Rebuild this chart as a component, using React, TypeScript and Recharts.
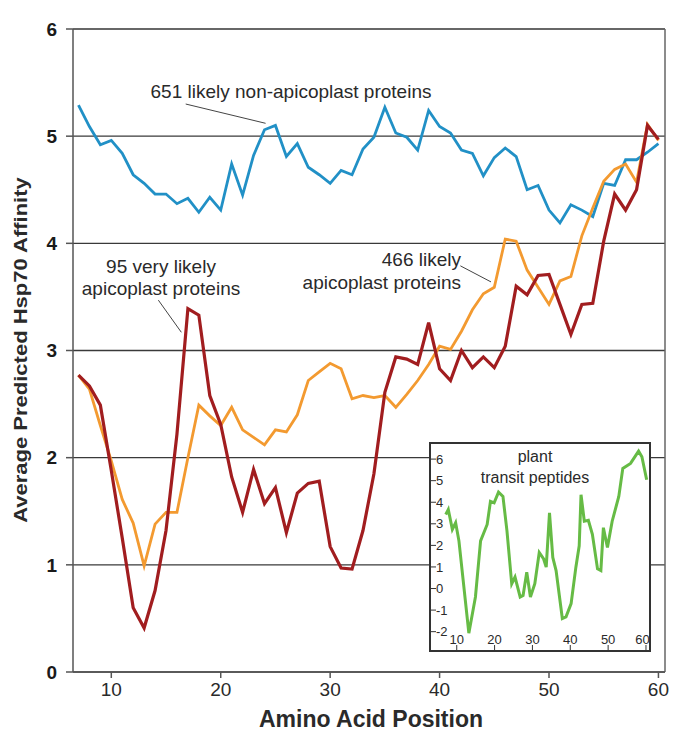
import { LineChart, Line, XAxis, YAxis, CartesianGrid, ReferenceLine } from 'recharts';

// main chart: average predicted Hsp70 affinity by amino acid position
const positions = [7, 8, 9, 10, 11, 12, 13, 14, 15, 16, 17, 18, 19, 20, 21, 22, 23, 24, 25, 26,
  27, 28, 29, 30, 31, 32, 33, 34, 35, 36, 37, 38, 39, 40, 41, 42, 43, 44, 45, 46,
  47, 48, 49, 50, 51, 52, 53, 54, 55, 56, 57, 58, 59, 60];

const nonApicoplast = [5.29, 5.09, 4.92, 4.96, 4.84, 4.64, 4.56, 4.46, 4.46, 4.37, 4.42, 4.29, 4.43, 4.31,
  4.74, 4.45, 4.82, 5.06, 5.10, 4.81, 4.93, 4.71, 4.64, 4.56, 4.68, 4.64, 4.88, 4.99, 5.27, 5.03,
  4.99, 4.87, 5.24, 5.09, 5.03, 4.87, 4.84, 4.63, 4.80, 4.89, 4.81, 4.50, 4.54, 4.31, 4.19, 4.36,
  4.31, 4.25, 4.56, 4.54, 4.78, 4.78, 4.85, 4.93];

const likelyApicoplast = [2.77, 2.64, 2.30, 1.97, 1.61, 1.39, 0.99, 1.38, 1.49, 1.49, 2.00, 2.49, 2.39, 2.30,
  2.47, 2.26, 2.19, 2.12, 2.26, 2.24, 2.40, 2.72, 2.80, 2.88, 2.83, 2.55, 2.58, 2.56, 2.58, 2.47,
  2.59, 2.72, 2.87, 3.04, 3.01, 3.18, 3.38, 3.53, 3.59, 4.04, 4.02, 3.75, 3.59, 3.43, 3.65, 3.69,
  4.07, 4.33, 4.58, 4.69, 4.74, 4.57, 5.11, 4.96];

const veryLikelyApicoplast = [2.77, 2.67, 2.49, 1.88, 1.25, 0.60, 0.41, 0.76, 1.32, 2.22, 3.39, 3.33, 2.58, 2.31,
  1.82, 1.49, 1.89, 1.57, 1.72, 1.30, 1.67, 1.76, 1.78, 1.17, 0.97, 0.96, 1.32, 1.85, 2.61, 2.94,
  2.92, 2.87, 3.26, 2.83, 2.72, 3.00, 2.84, 2.94, 2.84, 3.04, 3.60, 3.52, 3.70, 3.71, 3.43, 3.15,
  3.43, 3.44, 4.02, 4.46, 4.31, 4.50, 5.10, 4.97];

const xTicks = [10, 20, 30, 40, 50, 60];
const yTicks = [0, 1, 2, 3, 4, 5, 6];

// inset: plant transit peptides
const insetPos = [7.09, 7.77, 8.84, 9.71, 10.58, 13.2, 14.94, 16.3, 18.04, 18.91, 19.88, 21.04, 22.21, 23.27, 24.53,
  25.4, 26.76, 27.53, 28.5, 29.47, 30.63, 31.8, 32.96, 33.64, 34.51, 35.38, 36.25, 37.9, 38.87, 40.22, 41.48,
  42.36, 42.84, 43.71, 44.78, 45.84, 47.2, 48.08, 48.75, 49.82, 51.07, 52.82, 53.88, 55.92, 58.05, 58.92, 60.18];
const plantTransit = [3.43, 3.66, 2.74, 3.05, 2.21, -2.07, -0.39, 2.21, 2.97, 4.04, 3.97, 4.47, 4.27, 2.67, 0.22,
  0.53, -0.39, -0.32, 0.76, -0.39, 0.22, 1.67, 1.37, 0.99, 3.51, 1.44, 0.83, -1.39, -1.31, -0.70, 0.99,
  1.98, 4.35, 3.12, 3.16, 2.51, 0.91, 0.83, 2.82, 1.90, 3.12, 4.27, 5.57, 5.80, 6.37, 6.11, 5.04];
const insetXTicks = [10, 20, 30, 40, 50, 60];
const insetYTicks = [-2, -1, 0, 1, 2, 3, 4, 5, 6];

const FONT = '"Liberation Sans", Arial, sans-serif';

const mainData = positions.map((p, i) => ({
  pos: p,
  non: nonApicoplast[i],
  likely: likelyApicoplast[i],
  very: veryLikelyApicoplast[i],
}));

const insetData = insetPos.map((p, i) => ({ pos: p, val: plantTransit[i] }));

const txt = (extra: React.CSSProperties): React.CSSProperties => ({
  position: 'absolute', fontFamily: FONT, color: '#2a2a2a', whiteSpace: 'nowrap', ...extra,
});

export default function App() {
  return (
    <div style={{ position: 'absolute', left: 0, top: 0, width: 680, height: 732, background: '#fff' }}>
      <LineChart width={680} height={732} data={mainData} margin={{ top: 29, right: 15, bottom: 30, left: 23 }}>
        <CartesianGrid horizontal vertical={false} stroke="#3a3a3a" strokeWidth={1.3} />
        <XAxis
          dataKey="pos" type="number" domain={[6.5, 60.6]} ticks={xTicks} height={30}
          tick={{ fontSize: 19, fill: '#2a2a2a', fontFamily: FONT }}
          tickSize={6} tickMargin={5} stroke="#555" strokeWidth={1.5}
        />
        <YAxis
          type="number" domain={[0, 6]} ticks={yTicks} width={50}
          tick={{ fontSize: 19, fill: '#1a1a1a', fontWeight: 700, fontFamily: FONT }}
          tickSize={7} tickMargin={9} stroke="#555" strokeWidth={1.5}
        />
        <ReferenceLine x={60.6} stroke="#666" strokeWidth={1.5} />
        <ReferenceLine y={6} stroke="#666" strokeWidth={1.5} />
        <ReferenceLine segment={[{ x: 16.8, y: 5.3 }, { x: 24.1, y: 5.12 }]} stroke="#444" strokeWidth={1} />
        <ReferenceLine segment={[{ x: 14.3, y: 3.47 }, { x: 16.4, y: 3.17 }]} stroke="#444" strokeWidth={1} />
        <ReferenceLine segment={[{ x: 41.9, y: 3.79 }, { x: 44.7, y: 3.64 }]} stroke="#444" strokeWidth={1} />
        <Line type="linear" dataKey="non" stroke="#2190c6" strokeWidth={2.8} dot={false} isAnimationActive={false} />
        <Line type="linear" dataKey="likely" stroke="#f39a30" strokeWidth={2.8} dot={false} isAnimationActive={false} />
        <Line type="linear" dataKey="very" stroke="#a11d1f" strokeWidth={3.2} dot={false} isAnimationActive={false} />
      </LineChart>

      {/* inset */}
      <div style={{ position: 'absolute', left: 429, top: 442, width: 222, height: 210, border: '2px solid #333', background: '#fff', boxSizing: 'border-box' }}>
        <LineChart width={218} height={206} data={insetData} margin={{ top: 0, right: 0, bottom: 0, left: 0 }}>
          <XAxis
            dataKey="pos" type="number" domain={[3.2, 60.8]} ticks={insetXTicks} height={1} mirror
            tick={{ fontSize: 13, fill: '#2a2a2a', fontFamily: FONT }}
            tickSize={5} tickMargin={1} axisLine={false} stroke="#333"
          />
          <YAxis
            type="number" domain={[-2.85, 6.7]} ticks={insetYTicks} width={1} mirror
            tick={{ fontSize: 13, fill: '#2a2a2a', fontFamily: FONT }}
            tickSize={5} tickMargin={0} axisLine={false} stroke="#333"
          />
          <Line type="linear" dataKey="val" stroke="#66bb45" strokeWidth={3} dot={false} isAnimationActive={false} />
        </LineChart>
      </div>

      <div style={txt({ left: 535, top: 467, transform: 'translate(-50%, -50%)', fontSize: 16, textAlign: 'center', lineHeight: '21px' })}>
        plant<br />transit peptides
      </div>

      <div style={txt({ left: 291, top: 92, transform: 'translate(-50%, -50%)', fontSize: 19 })}>
        651 likely non-apicoplast proteins
      </div>
      <div style={txt({ left: 161, top: 278, transform: 'translate(-50%, -50%)', fontSize: 19, textAlign: 'center', lineHeight: '22px' })}>
        95 very likely<br />apicoplast proteins
      </div>
      <div style={txt({ right: 680 - 461, top: 271, transform: 'translateY(-50%)', fontSize: 19, textAlign: 'right', lineHeight: '23px' })}>
        466 likely<br />apicoplast proteins
      </div>

      <div style={txt({ left: 21, top: 350, transform: 'translate(-50%, -50%) rotate(-90deg) scaleY(0.85)', fontSize: 22, fontWeight: 700 })}>
        Average Predicted Hsp70 Affinity
      </div>
      <div style={txt({ left: 371, top: 719, transform: 'translate(-50%, -50%)', fontSize: 23, fontWeight: 700 })}>
        Amino Acid Position
      </div>
    </div>
  );
}
